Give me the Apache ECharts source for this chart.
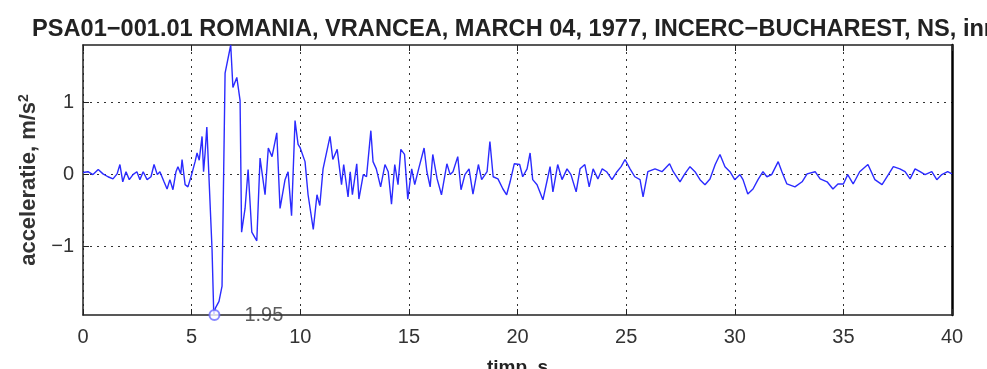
<!DOCTYPE html>
<html>
<head>
<meta charset="utf-8">
<script src="https://cdn.jsdelivr.net/npm/echarts@6/dist/echarts.min.js"></script>
<style>
  html, body { margin: 0; padding: 0; background: #fff; }
  #chart { width: 987px; height: 369px; }
</style>
</head>
<body>
<div id="chart"></div>
<script>
// date
var timp = [0,0.23,0.46,0.7,0.92,1.15,1.38,1.57,1.7,1.83,1.98,2.13,2.3,2.48,2.62,2.77,2.95,3.13,3.27,3.42,3.54,3.73,3.87,4.0,4.14,4.28,4.37,4.5,4.56,4.7,4.83,5.0,5.16,5.25,5.35,5.48,5.55,5.62,5.7,5.94,6.02,6.1,6.26,6.4,6.54,6.8,6.9,7.08,7.23,7.3,7.46,7.6,7.77,8.0,8.15,8.38,8.53,8.7,8.92,9.07,9.3,9.44,9.6,9.76,9.9,10.0,10.22,10.36,10.6,10.77,10.9,11.05,11.37,11.5,11.7,11.9,12.0,12.2,12.3,12.4,12.6,12.7,12.9,13.05,13.25,13.35,13.5,13.7,13.9,14.05,14.2,14.35,14.5,14.63,14.8,14.95,15.13,15.27,15.45,15.7,15.83,15.98,16.1,16.3,16.5,16.75,16.9,17.03,17.25,17.4,17.58,17.77,17.95,18.2,18.35,18.6,18.73,18.88,19.1,19.33,19.5,19.66,19.85,20.1,20.24,20.44,20.58,20.7,20.9,21.17,21.4,21.5,21.63,21.85,22.05,22.28,22.46,22.7,22.88,23.1,23.3,23.48,23.7,23.9,24.1,24.35,24.58,24.77,24.95,25.18,25.4,25.64,25.78,26.0,26.33,26.65,27.0,27.17,27.48,27.7,27.94,28.17,28.4,28.63,28.86,29.1,29.32,29.55,29.78,30.0,30.24,30.38,30.6,30.84,31.07,31.3,31.48,31.7,32.0,32.17,32.4,32.77,33.1,33.33,33.7,33.93,34.25,34.52,34.75,35.0,35.2,35.45,35.75,36.13,36.45,36.78,37.07,37.3,37.6,37.84,38.07,38.3,38.53,38.76,39.07,39.3,39.53,39.8,40.0];
var acceleratie = [0.03,0.04,0,0.07,0.01,-0.03,-0.06,0.01,0.14,-0.1,0.04,-0.07,0,0.04,-0.07,0.04,-0.07,-0.03,0.14,0,0.04,-0.1,-0.2,-0.07,-0.21,0.04,0.11,0.01,0.21,-0.14,-0.17,0,0.18,0.3,0.2,0.53,0.04,0.3,0.66,-1.04,-1.95,-1.85,-1.76,-1.55,1.41,1.8,1.21,1.35,1.03,-0.8,-0.47,0.07,-0.8,-0.92,0.23,-0.28,0.37,0.25,0.58,-0.47,-0.07,0.04,-0.57,0.75,0.42,0.37,0.18,-0.28,-0.76,-0.28,-0.43,0.08,0.53,0.21,0.35,-0.14,0.14,-0.31,0.04,-0.28,0.15,-0.34,0,-0.03,0.61,0.18,0.08,-0.17,0.14,0.04,-0.41,0.14,-0.14,0.35,0.28,-0.34,0.08,-0.14,0.08,0.37,0.04,-0.17,0.28,-0.06,-0.28,0.15,0,0.04,0.25,-0.21,0,0.08,-0.27,0.14,-0.07,0.04,0.46,-0.03,-0.06,-0.2,-0.28,-0.1,0.15,0.14,-0.03,0.08,0.3,-0.07,-0.14,-0.35,-0.03,0.11,-0.24,0.14,-0.07,0.08,0,-0.24,0.08,0.14,-0.17,0.08,-0.06,0.08,0.04,-0.07,0.04,0.11,0.21,0.08,-0.03,-0.07,-0.31,0.04,0.08,0.04,0.15,0.04,-0.1,0.01,0.11,0.04,-0.07,-0.14,-0.06,0.14,0.28,0.11,0.04,-0.07,0,-0.07,-0.27,-0.2,-0.07,0.04,-0.03,0,0.18,0.04,-0.13,-0.17,-0.1,0.01,0.04,-0.06,-0.1,-0.2,-0.13,-0.13,0,-0.13,0.04,0.14,-0.07,-0.14,0,0.11,0.08,0.04,-0.06,0.08,0.04,0,0.04,-0.07,0,0.04,0.01];
var yTicks = [-1, 0, 1];
var varfMin = [6.05, -1.95];   // punctul de maxim absolut
var etichetaVarf = '1.95';

var myChart = echarts.init(document.getElementById('chart'));

var font = 'Liberation Sans';
var grila = { show: true, lineStyle: { color: '#333', type: [2, 5], width: 1 } };
var liniaAx = { onZero: false, lineStyle: { color: '#222', width: 1.5 } };
var tick = { inside: true, length: 6, lineStyle: { color: '#222' } };

var option = {
  animation: false,
  title: {
    text: 'PSA01\u2212001.01 ROMANIA, VRANCEA, MARCH 04, 1977, INCERC\u2212BUCHAREST, NS, inregistrare',
    left: 27,
    top: 12,
    textStyle: { fontFamily: font, fontSize: 23.6, fontWeight: 'bold', color: '#222' }
  },
  grid: { left: 83, right: 35, top: 45, bottom: 54, outerBoundsMode: 'none' },
  xAxis: [
    {
      type: 'value', min: 0, max: 40, interval: 5,
      name: 'timp, s', nameLocation: 'middle', nameGap: 43,
      nameTextStyle: { fontFamily: font, fontSize: 19, fontWeight: 'bold', color: '#222' },
      axisLine: liniaAx,
      axisTick: tick,
      axisLabel: { fontFamily: font, fontSize: 20, color: '#333', margin: 12 },
      splitLine: grila
    },
    {
      type: 'value', min: 0, max: 40, interval: 5, position: 'top',
      axisLine: liniaAx,
      axisTick: tick,
      axisLabel: { show: false },
      splitLine: { show: false }
    }
  ],
  yAxis: [
    {
      type: 'value', min: -1.95, max: 1.8,
      name: 'acceleratie, m/s{sup|2}', nameLocation: 'middle', nameGap: 41, nameRotate: 90,
      nameTextStyle: {
        fontFamily: font, fontSize: 22, fontWeight: 'bold', color: '#333',
        rich: { sup: { fontFamily: font, fontSize: 14, fontWeight: 'bold', color: '#333', verticalAlign: 'top', padding: [0, 0, 10, 0] } }
      },
      axisLine: liniaAx,
      axisTick: { inside: true, length: 6, customValues: yTicks, lineStyle: { color: '#222' } },
      axisLabel: {
        customValues: yTicks, fontFamily: font, fontSize: 20, color: '#333', margin: 9,
        formatter: function (v) { return v < 0 ? '\u2212' + Math.abs(v) : String(v); }
      },
      splitLine: grila
    },
    {
      type: 'value', min: -1.95, max: 1.8, position: 'right',
      axisLine: { show: true, onZero: false, lineStyle: { color: '#000', width: 2.5 } },
      axisTick: { show: false },
      axisLabel: { show: false },
      splitLine: { show: false }
    }
  ],
  series: [
    {
      type: 'line',
      data: timp.map(function (t, i) { return [t, acceleratie[i]]; }),
      showSymbol: false,
      lineStyle: { color: '#2b2bff', width: 1.4 },
      z: 3
    },
    {
      type: 'scatter',
      data: [varfMin],
      symbol: 'emptyCircle',
      symbolSize: 10,
      itemStyle: { color: '#6a6aff', borderWidth: 1.2 },
      label: {
        show: true, position: 'right', distance: 24,
        formatter: etichetaVarf,
        fontFamily: font, fontSize: 20, color: '#333'
      },
      clip: false,
      z: 4
    }
  ]
};

myChart.setOption(option);
</script>
</body>
</html>
